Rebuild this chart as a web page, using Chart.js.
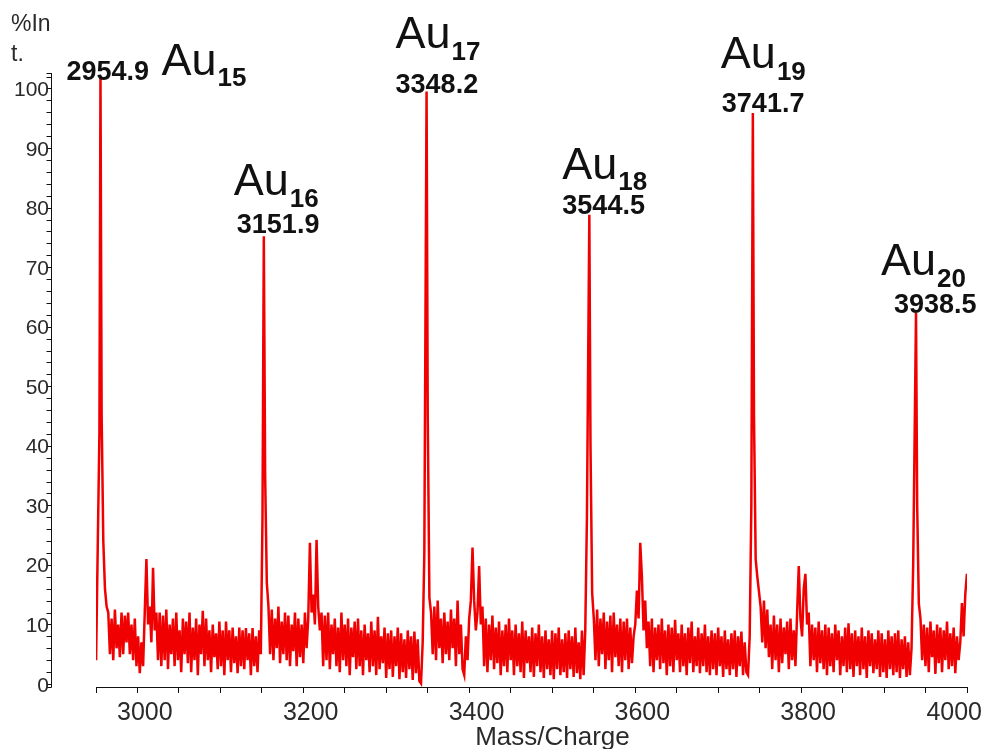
<!DOCTYPE html>
<html>
<head>
<meta charset="utf-8">
<title>Au cluster mass spectrum</title>
<script src="https://cdn.jsdelivr.net/npm/chart.js@4.4.1/dist/chart.umd.min.js"></script>
<style>
  html, body { margin: 0; padding: 0; background: #fff; }
  #wrap { width: 985px; height: 749px; position: relative; }
</style>
</head>
<body>
<div id="wrap"><canvas id="ms"></canvas></div>
<script>
// Au cluster peaks: centroid m/z and relative intensity (%)
const peakMass = [2954.9, 3151.9, 3348.2, 3544.5, 3741.7, 3938.5];
const peakIntensity = [102, 75.2, 99.5, 78.8, 95.9, 62.3];
const clusterSize = ['15', '16', '17', '18', '19', '20'];

// Trace between the cluster peaks, one reading every 2 m/z from each start mass
const traceStep = 2;
const traceStart = [2949.6, 2956.3, 3153.5, 3349.6, 3545.9, 3743.1, 3939.9];

const trace0 = [4, 23, 42];

const trace1 = [45, 24, 16, 13,
  12, 5, 11, 4, 12.5, 6, 10, 4.5, 12, 5, 11.5, 7, 12, 5, 10, 4, 11,
  3, 8, 1.8, 7, 3,
  12, 21, 10, 13, 7, 19.5, 9, 12, 4,
  12, 3, 11.5, 4, 12.5, 2.5, 10, 5, 11, 3,
  12, 4, 9, 2, 11, 5, 10.5, 3.5, 12, 2,
  9.5, 4, 11, 1.5, 10, 5, 12.3, 3, 11, 4,
  9, 2, 10, 4.5, 8.5, 2.5, 10.5, 3, 9, 1.5,
  10.5, 4, 9, 2, 9.5, 3.5, 8, 1.8, 9.5, 3,
  9, 2.5, 9.4, 4, 8.5, 1.5, 9.4, 3, 8, 2, 9,
  5, 28];

const trace2 = [35, 17, 13,
  5, 12.5, 4, 11, 6, 13, 3.5, 10.5, 5, 12, 4, 11.5, 3, 10, 5.5, 12, 3, 11, 4.5, 10, 3.5, 12, 6,
  11, 23.7, 12, 15, 10, 24.2, 13, 9, 12,
  3, 11.5, 4, 12, 2.5, 10, 5, 11, 3, 9.5,
  2, 12, 4, 10, 3, 11, 1.5, 9.5, 4.5, 10.5,
  2.5, 11, 3, 9, 1.5, 10, 4, 8.5, 2, 10.5,
  3, 9, 1.5, 11.3, 2.5, 8, 3.5, 9.5, 1, 8.5,
  2.5, 9, 1.2, 8, 3, 9.5, 0.8, 8.5, 2, 7.5,
  1, 9, 2.5, 8, 0.7, 8.8, 1.8, 7.5, 0.5,
  0.1, 7, 22];

const trace3 = [45, 14.5, 12,
  5, 13, 4, 14, 6, 11, 3.5, 12, 5, 10.5, 4, 12.5, 6, 11, 3, 14, 5, 10, 2.5, 1.5, 8, 4,
  11, 14, 22.9, 14, 9, 12, 19.8, 10, 13,
  3, 11, 2, 10, 4, 11.5, 2.5, 9.5, 3.5, 10.5,
  1.5, 9, 3, 10, 2, 11, 4, 9, 1.5, 10,
  3, 8.5, 2, 10.5, 1, 9, 3.5, 8, 2, 9.5,
  1.2, 8.5, 3, 10, 2, 8, 1, 9, 2.5, 7.5,
  1.5, 9, 0.8, 8.5, 2.5, 9.5, 1.5, 7.5, 2, 8.5,
  1, 9, 2.5, 8, 1.2, 9.5, 1.8, 7, 0.8, 9,
  1.5, 9, 28];

const trace4 = [40, 15.3, 11,
  4, 12.5, 3, 11, 5, 12, 2.5, 10.5, 4, 11.5, 2, 12, 4.5, 10, 3, 11, 2, 10.5, 4, 11, 2.5, 9.5, 3.5, 8,
  10, 15.7, 11, 23.7, 18, 9, 14, 6,
  10.5, 3, 11, 2, 9.5, 4, 10, 2.5, 11, 3.5,
  9, 1.5, 10, 3, 9.5, 2, 10.8, 4, 8.5, 2,
  10, 3, 8.5, 1.5, 9.5, 3.5, 10.5, 2, 8, 3,
  9.5, 1.8, 8.5, 3, 10, 2, 8, 1.5, 9, 2.5,
  8.5, 1.5, 9.5, 3, 8, 1.2, 9, 2.5, 7.5, 1.5,
  8.5, 2.5, 9, 1.2, 8, 3, 8.8, 1.5, 7, 2,
  1.5, 8, 30];

const trace5 = [45, 21, 18, 15.5, 13,
  7, 14, 6, 12.5, 4.5, 10, 2.5, 11.5, 4, 10, 2, 11, 3.5, 9.5, 5, 10.5, 2.5, 11, 4, 9, 3,
  12, 19.8, 11, 8, 16, 18.5, 10, 12,
  3, 10, 4, 9.5, 2, 10.5, 3.5, 9, 2.5, 10,
  1.5, 9.5, 3, 8.5, 2, 10, 4, 9, 1.5, 8,
  3, 9.5, 2, 10.2, 2.5, 8.5, 1.2, 9, 3, 8,
  1.5, 9.5, 2.5, 8, 1, 9, 3, 8.5, 1.8, 7.5,
  2.5, 9, 1.2, 8.5, 2, 7.5, 1, 9, 2.5, 8,
  1.5, 8.5, 2, 9, 1, 7.5, 2.5, 8, 1.2, 7,
  1.5, 6, 20];

const trace6 = [30, 13.5, 11,
  4, 10, 3, 9.5, 2, 10.5, 4.5, 9, 1.7, 10, 3.5, 9.5, 2, 9, 4, 10.5, 2.5, 8.5, 3, 9.5, 1.8, 8, 4, 7,
  13.6, 8, 15, 18.5];

const traces = [trace0, trace1, trace2, trace3, trace4, trace5, trace6];

// Axis ticks
const xTickLabels = [3000, 3200, 3400, 3600, 3800, 4000];
const yTickLabels = [0, 10, 20, 30, 40, 50, 60, 70, 80, 90, 100];
const xMinorStep = 50;
const yMinorStep = 2;

// Assemble the spectrum: trace, peak, trace, peak, ...
const spectrum = [];
traces.forEach((vals, s) => {
  vals.forEach((v, i) => spectrum.push({ x: +(traceStart[s] + i * traceStep).toFixed(1), y: v }));
  if (s < peakMass.length) spectrum.push({ x: peakMass[s], y: peakIntensity[s] });
});

const FONT = "'Liberation Sans', Arial, Helvetica, sans-serif";

// Placement of the m/z value and cluster name around each peak top (pixels)
const labelLayout = [
  { numDx: -34, numDy: 3,  auDx: 61,  auDy: -2 },
  { numDx: -27, numDy: -3, auDx: -30, auDy: -41 },
  { numDx: -31, numDy: 2,  auDx: -31, auDy: -43 },
  { numDx: -27, numDy: -1, auDx: -27, auDy: -36 },
  { numDx: -31, numDy: -1, auDx: -32, auDy: -44.5 },
  { numDx: -22, numDy: 0,  auDx: -35, auDy: -38 }
];

// Offset intensity axis, tick labels, titles and peak annotations
const decorations = {
  id: 'decorations',
  afterDraw(chart) {
    const { ctx, scales: { x, y } } = chart;
    ctx.save();
    ctx.strokeStyle = '#111';
    ctx.fillStyle = '#2a2a2a';
    ctx.lineWidth = 1;

    // intensity axis, set off to the left of the plot
    const axisX = 51.5;
    const top = y.getPixelForValue(y.max);
    const bottom = y.getPixelForValue(y.min);
    ctx.beginPath();
    ctx.moveTo(axisX, Math.round(top));
    ctx.lineTo(axisX, Math.round(bottom) + 0.5);
    const marks = [y.min, y.max];
    for (let v = 0; v <= y.max; v += yMinorStep) marks.push(v);
    marks.forEach(v => {
      const p = Math.round(y.getPixelForValue(v)) + 0.5;
      ctx.moveTo(axisX - 5, p);
      ctx.lineTo(axisX, p);
    });
    ctx.stroke();

    ctx.font = `21px ${FONT}`;
    ctx.textAlign = 'right';
    ctx.textBaseline = 'alphabetic';
    yTickLabels.forEach(v => ctx.fillText(String(v), axisX - 2.5, y.getPixelForValue(v) + 7.5));

    ctx.textAlign = 'left';
    ctx.font = `23px ${FONT}`;
    ctx.fillText('%In', 11, 31);
    ctx.fillText('t.', 11, 61);

    // m/z tick labels
    ctx.font = `25px ${FONT}`;
    ctx.textAlign = 'center';
    xTickLabels.forEach(v => {
      const txt = String(v);
      const w = ctx.measureText(txt).width;
      const cx = Math.min(x.getPixelForValue(v) + 7, chart.width - 3 - w / 2);
      ctx.fillText(txt, cx, 720);
    });
    ctx.font = `26px ${FONT}`;
    ctx.fillText('Mass/Charge', x.getPixelForValue(3500), 745);

    // peak annotations
    ctx.fillStyle = '#111';
    ctx.textAlign = 'left';
    peakMass.forEach((m, i) => {
      const px = x.getPixelForValue(m);
      const py = y.getPixelForValue(peakIntensity[i]);
      const L = labelLayout[i];
      ctx.font = `bold 27px ${FONT}`;
      ctx.fillText(m.toFixed(1), px + L.numDx, py + L.numDy);
      const ax = px + L.auDx, ay = py + L.auDy;
      ctx.font = `45px ${FONT}`;
      ctx.fillText('Au', ax, ay);
      const aw = ctx.measureText('Au').width;
      ctx.font = `bold 26px ${FONT}`;
      ctx.fillText(clusterSize[i], ax + aw + 1, ay + 11.5);
    });
    ctx.restore();
  }
};

new Chart(document.getElementById('ms'), {
  type: 'line',
  data: {
    datasets: [{
      data: spectrum,
      borderColor: 'rgb(240,0,0)',
      borderWidth: 2.5,
      pointRadius: 0,
      tension: 0,
      fill: false
    }]
  },
  options: {
    responsive: true,
    maintainAspectRatio: false,
    animation: false,
    devicePixelRatio: 1,
    parsing: false,
    events: [],
    layout: { padding: { left: 96, right: 18, top: 73, bottom: 0 } },
    plugins: {
      legend: { display: false },
      tooltip: { enabled: false }
    },
    scales: {
      x: {
        type: 'linear',
        min: 2949.5,
        max: 4000,
        border: { display: true, color: '#111', width: 1 },
        grid: { display: true, drawOnChartArea: false, drawTicks: true, tickLength: 6, color: '#111' },
        ticks: { display: false, stepSize: xMinorStep },
        afterFit(scale) {
          scale.height = 62;
          scale.paddingLeft = 0;
          scale.paddingRight = 0;
        }
      },
      y: {
        display: false,
        min: -0.5,
        max: 102.6
      }
    }
  },
  plugins: [decorations]
});
</script>
</body>
</html>
